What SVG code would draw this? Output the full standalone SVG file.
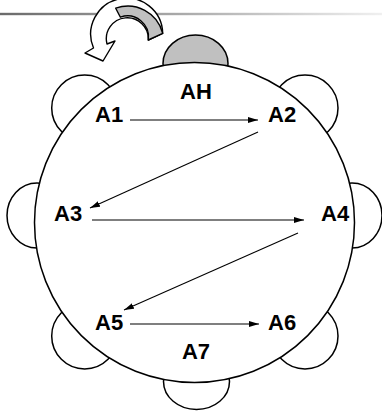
<svg xmlns="http://www.w3.org/2000/svg" width="382" height="412" viewBox="0 0 382 412">
  <defs>
    <linearGradient id="rule" gradientUnits="userSpaceOnUse" x1="0" y1="0" x2="382" y2="0">
      <stop offset="0" stop-color="#6a6a6a"/>
      <stop offset="0.55" stop-color="#b4b4b4"/>
      <stop offset="1" stop-color="#f0f0f0"/>
    </linearGradient>
    <marker id="head" markerWidth="10" markerHeight="6" refX="10" refY="3" orient="auto" markerUnits="userSpaceOnUse">
      <path d="M0,0 L10,3 L0,6 Z" fill="#000"/>
    </marker>
  </defs>
  <style>
    .edge { fill: none; stroke: #000; stroke-width: 1.1; marker-end: url(#head); }
    .ear { fill: #fff; stroke: #000; stroke-width: 1.5; }
    .lbl { font-family: "Liberation Sans", Arial, sans-serif; font-weight: bold; font-size: 22px; fill: #000; }
  </style>
  <rect width="382" height="412" fill="#fff"/>

  <!-- header rule -->
  <rect x="0" y="12.8" width="382" height="2.4" fill="url(#rule)"/>

  <!-- curved turning arrow -->
  <g id="turn-arrow" stroke="#000" stroke-width="1.4" stroke-linejoin="round">
    <path d="M162.7,33.3 A36,36 0 1 0 93.5,48 L85,53 L103,61 L115,41 L107,44 A21,21 0 1 1 148.3,40 Z" fill="#fff"/>
    <path d="M162.7,33.3 A36,36 0 0 0 115.7,8.2 L120.4,17.2 A21,21 0 0 1 148.3,40 Z" fill="#c0c0c0"/>
  </g>

  <!-- seats around the table -->
  <g id="seat-AH"><ellipse cx="195.5" cy="63.5" rx="32.5" ry="28.5" fill="#c0c0c0" stroke="#000" stroke-width="1.5"/></g>
  <g id="seat-A1"><circle class="ear" cx="84.7" cy="108" r="33"/></g>
  <g id="seat-A2"><circle class="ear" cx="305" cy="108" r="33"/></g>
  <g id="seat-A3"><ellipse class="ear" cx="37" cy="215.5" rx="30" ry="32.5"/></g>
  <g id="seat-A4"><ellipse class="ear" cx="352" cy="215.5" rx="30" ry="32.5"/></g>
  <g id="seat-A5"><circle class="ear" cx="84.7" cy="336" r="33"/></g>
  <g id="seat-A6"><circle class="ear" cx="305" cy="336" r="33"/></g>
  <g id="seat-A7"><ellipse class="ear" cx="196.5" cy="381.5" rx="33" ry="28"/></g>

  <!-- table -->
  <g id="table">
    <circle cx="194.5" cy="222.5" r="160" fill="#fff" stroke="#000" stroke-width="1.5"/>
  </g>

  <!-- labels -->
  <g id="node-AH"><text class="lbl" x="196" y="99" text-anchor="middle">AH</text></g>
  <g id="node-A1"><text class="lbl" x="95" y="122">A1</text></g>
  <g id="node-A2"><text class="lbl" x="268" y="122">A2</text></g>
  <g id="node-A3"><text class="lbl" x="54" y="221">A3</text></g>
  <g id="node-A4"><text class="lbl" x="321" y="221">A4</text></g>
  <g id="node-A5"><text class="lbl" x="95" y="330">A5</text></g>
  <g id="node-A6"><text class="lbl" x="268" y="330">A6</text></g>
  <g id="node-A7"><text class="lbl" x="196" y="359" text-anchor="middle">A7</text></g>

  <!-- passing order -->
  <g id="connectors">
    <line class="edge" x1="130" y1="120" x2="258" y2="120"/>
    <line class="edge" x1="258" y1="132" x2="90" y2="208"/>
    <line class="edge" x1="92" y1="220" x2="304" y2="220"/>
    <line class="edge" x1="298" y1="233" x2="124" y2="310"/>
    <line class="edge" x1="130" y1="324" x2="259" y2="324"/>
  </g>
</svg>
